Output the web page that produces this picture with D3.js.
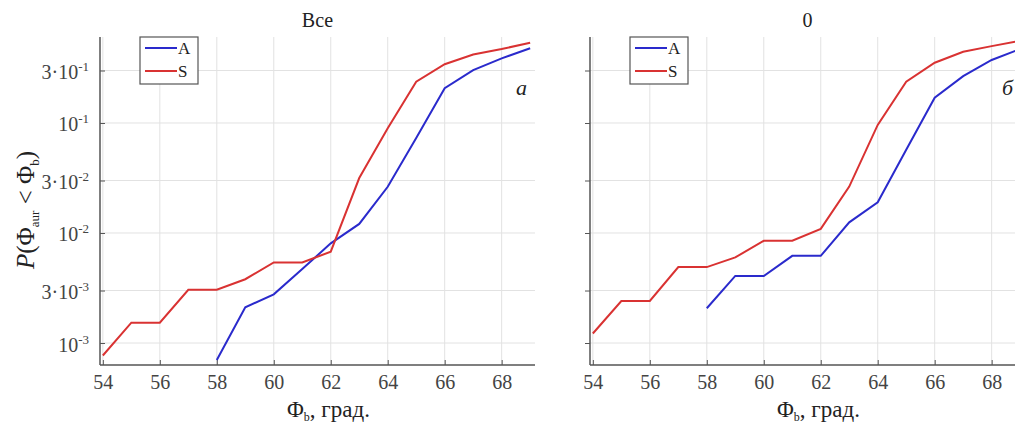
<!DOCTYPE html>
<html><head><meta charset="utf-8">
<script src="https://cdn.jsdelivr.net/npm/d3@7"></script>
<style>
body{margin:0;background:#fff;overflow:hidden}
svg text{font-family:"Liberation Serif","Times New Roman","DejaVu Serif",serif !important}
</style>
</head><body>
<script>
// ---- data ----
const panelTitles = ["Все", "0"];
const panelLetters = ["a", "б"];
const seriesNames = ["A", "S"];
const xTicks = [54, 56, 58, 60, 62, 64, 66, 68];
const yTicks = [1e-3, 3e-3, 1e-2, 3e-2, 1e-1, 3e-1];

const xA = [58, 59, 60, 61, 62, 63, 64, 65, 66, 67, 68, 69];
const xS = [54, 55, 56, 57, 58, 59, 60, 61, 62, 63, 64, 65, 66, 67, 68, 69];

const allA = [7.0e-4, 2.11e-3, 2.77e-3, 4.7e-3, 8.05e-3, 0.0121, 0.0263, 0.073, 0.207, 0.303, 0.387, 0.478];
const allS = [7.7e-4, 1.53e-3, 1.53e-3, 3.05e-3, 3.05e-3, 3.8e-3, 5.4e-3, 5.4e-3, 6.76e-3, 0.0316, 0.0895, 0.237, 0.342, 0.42, 0.47, 0.537];
const zeroA = [2.07e-3, 4.07e-3, 4.07e-3, 6.2e-3, 6.2e-3, 0.0125, 0.019, 0.057, 0.17, 0.267, 0.374, 0.47];
const zeroS = [1.22e-3, 2.41e-3, 2.41e-3, 4.9e-3, 4.9e-3, 6.0e-3, 8.5e-3, 8.5e-3, 0.0109, 0.0264, 0.096, 0.237, 0.353, 0.444, 0.5, 0.56];

const panelsData = [
  {A: allA, S: allS},
  {A: zeroA, S: zeroS}
];

// ---- layout ----
const W = 1015, H = 428;
const colors = {A: "#2a2acc", S: "#d93232"};
const plotTop = 37, plotBottom = 365;
const panelLeft = [100, 590], plotWidth = 435;

const svg = d3.select("body").append("svg").attr("width", W).attr("height", H);

function supLabel(sel, v) {
  const e = Math.round(Math.floor(Math.log10(v) + 1e-9));
  const m = Math.round(v / Math.pow(10, e));
  sel.text(null);
  sel.append("tspan").text((m !== 1 ? m + "·" : "") + "10");
  sel.append("tspan").attr("dy", -8).style("font-size", "13px").text(String(e));
}

panelsData.forEach((pd, i) => {
  const x0 = panelLeft[i];
  const x = d3.scaleLinear().domain([53.9, 69.17]).range([x0, x0 + plotWidth]);
  const y = d3.scaleLog().domain([6.31e-4, 0.605]).range([plotBottom, plotTop]);
  const g = svg.append("g");

  // grid
  g.append("g").selectAll("line").data(xTicks).join("line")
    .attr("x1", d => x(d)).attr("x2", d => x(d))
    .attr("y1", plotTop).attr("y2", plotBottom)
    .attr("stroke", "#e2e2e2").attr("stroke-width", 1);
  g.append("g").selectAll("line").data(yTicks).join("line")
    .attr("x1", x0).attr("x2", x0 + plotWidth)
    .attr("y1", d => y(d)).attr("y2", d => y(d))
    .attr("stroke", "#e2e2e2").attr("stroke-width", 1);

  // axes
  const xAxis = d3.axisBottom(x).tickValues(xTicks).tickSize(-5).tickPadding(10).tickFormat(d3.format("d"));
  const gx = g.append("g").attr("transform", `translate(0,${plotBottom})`).call(xAxis);
  gx.attr("font-size", null).attr("font-family", null);
  gx.select(".domain").attr("d", `M${x0},0H${x0 + plotWidth}`).attr("stroke", "#555").attr("stroke-width", 1.5);
  gx.selectAll(".tick line").attr("stroke", "#555");
  gx.selectAll(".tick text").style("font-size", "20px").attr("fill", "#444");

  const yAxis = d3.axisLeft(y).tickValues(yTicks).tickSize(i === 0 ? -5 : 5).tickPadding(8);
  const gy = g.append("g").attr("transform", `translate(${x0},0)`).call(yAxis);
  gy.attr("font-size", null).attr("font-family", null);
  gy.select(".domain").attr("d", `M0,${plotTop}V${plotBottom}`).attr("stroke", "#555").attr("stroke-width", 1.5);
  gy.selectAll(".tick line").attr("stroke", "#555");
  if (i === 0) {
    gy.selectAll(".tick text").style("font-size", "20px").attr("fill", "#444")
      .attr("x", -11).attr("dy", "0.4em")
      .each(function(d) { supLabel(d3.select(this), d); });
  } else {
    gy.selectAll(".tick text").remove();
  }

  // lines
  const line = d3.line().x(d => x(d[0])).y(d => y(d[1]));
  [["A", xA], ["S", xS]].forEach(([k, xs]) => {
    g.append("path").datum(xs.map((xv, j) => [xv, pd[k][j]]))
      .attr("d", line).attr("fill", "none")
      .attr("stroke", colors[k]).attr("stroke-width", 2);
  });

  // title
  svg.append("text").attr("x", x0 + plotWidth / 2).attr("y", 27)
    .attr("text-anchor", "middle").style("font-size", "20px").attr("fill", "#222").text(panelTitles[i]);

  // panel letter
  svg.append("text").attr("x", Math.min(x0 + 427, W - 2)).attr("y", 95)
    .attr("text-anchor", "end").style("font-size", "22px").attr("font-style", "italic").attr("fill", "#222")
    .text(panelLetters[i]);

  // x label
  const xl = svg.append("text").attr("x", x0 + plotWidth / 2 + 11).attr("y", 417)
    .attr("text-anchor", "middle").style("font-size", "23px").attr("fill", "#222");
  xl.append("tspan").text("Φ");
  xl.append("tspan").attr("dy", 4).style("font-size", "12px").text("b");
  xl.append("tspan").attr("dy", -4).text(", град.");

  // legend
  const lx = x0 + 40, ly = plotTop;
  const lg = svg.append("g");
  lg.append("rect").attr("x", lx).attr("y", ly).attr("width", 58).attr("height", 47)
    .attr("fill", "#fff").attr("stroke", "#555").attr("stroke-width", 1.2);
  seriesNames.forEach((s, j) => {
    const yy = ly + 11 + j * 23;
    lg.append("line").attr("x1", lx + 5).attr("x2", lx + 37).attr("y1", yy).attr("y2", yy)
      .attr("stroke", colors[s]).attr("stroke-width", 2);
    lg.append("text").attr("x", lx + 38).attr("y", yy + 6).style("font-size", "17px").attr("fill", "#222").text(s);
  });
});

// y label
const yl = svg.append("text").attr("transform", "translate(34,210) rotate(-90)")
  .attr("text-anchor", "middle").style("font-size", "25px").attr("fill", "#222");
yl.append("tspan").attr("font-style", "italic").text("P");
yl.append("tspan").text("(Φ");
yl.append("tspan").attr("dy", 5).style("font-size", "13px").text("aur");
yl.append("tspan").attr("dy", -5).text(" < Φ");
yl.append("tspan").attr("dy", 5).style("font-size", "13px").text("b");
yl.append("tspan").attr("dy", -5).text(")");
</script>
</body></html>
